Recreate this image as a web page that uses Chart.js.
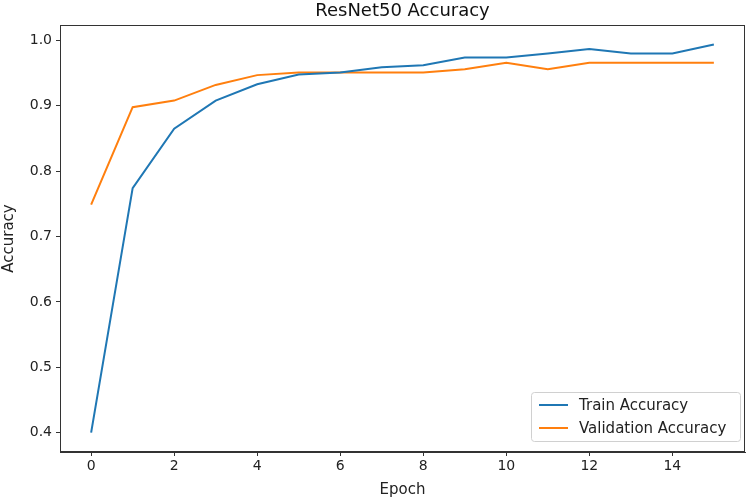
<!DOCTYPE html>
<html>
<head>
<meta charset="utf-8">
<script src="https://cdn.jsdelivr.net/npm/chart.js@4/dist/chart.umd.min.js"></script>
<style>
  html, body { margin: 0; padding: 0; background: #fff; }
  #wrap { width: 752px; height: 502px; }
</style>
</head>
<body>
<div id="wrap"><canvas id="accChart" width="752" height="502"></canvas></div>
<script>
const epochs = [0, 1, 2, 3, 4, 5, 6, 7, 8, 9, 10, 11, 12, 13, 14, 15];
const trainAcc = [0.400, 0.774, 0.865, 0.908, 0.933, 0.948, 0.951, 0.959, 0.962, 0.974, 0.974, 0.980, 0.987, 0.980, 0.980, 0.994];
const valAcc = [0.749, 0.898, 0.908, 0.932, 0.947, 0.951, 0.951, 0.951, 0.951, 0.956, 0.966, 0.956, 0.966, 0.966, 0.966, 0.966];
const xTicks = [0, 2, 4, 6, 8, 10, 12, 14];
const yTicks = [0.4, 0.5, 0.6, 0.7, 0.8, 0.9, 1.0];

const FONT = 'DejaVu Sans';
const blue = '#1f77b4';
const orange = '#ff7f0e';

// frame round the plot area (matplotlib spines) + title centred over the axes
const framePlugin = {
    id: 'frame',
    afterDatasetsDraw(chart) {
        const a = chart.chartArea;
        const c = chart.ctx;
        c.save();
        c.strokeStyle = '#333';
        c.lineWidth = 1;
        c.strokeRect(Math.round(a.left) + 0.5, Math.round(a.top) + 0.5,
            Math.round(a.right - a.left) - 1, Math.round(a.bottom - a.top) - 1);
        c.fillStyle = '#111';
        c.font = '18px "' + FONT + '"';
        c.textAlign = 'center';
        c.textBaseline = 'middle';
        c.fillText('ResNet50 Accuracy', (a.left + a.right) / 2, 11);
        c.restore();
    }
};

// legend in the lower right corner, inside the axes
const cornerLegend = {
    id: 'cornerLegend',
    afterDraw(chart) {
        const a = chart.chartArea;
        const c = chart.ctx;
        const w = 209, h = 49;
        const x = a.right - 5 - w, y = a.bottom - 11 - h;
        c.save();
        c.fillStyle = 'rgba(255,255,255,0.8)';
        c.strokeStyle = '#d0d0d0';
        c.lineWidth = 1;
        c.beginPath();
        c.roundRect(x + 0.5, y + 0.5, w, h, 3);
        c.fill();
        c.stroke();
        c.font = '15px "' + FONT + '"';
        c.textBaseline = 'middle';
        chart.data.datasets.forEach((ds, i) => {
            const ly = y + 13 + i * 23;
            c.strokeStyle = ds.borderColor;
            c.lineWidth = 2;
            c.beginPath();
            c.moveTo(x + 8, ly);
            c.lineTo(x + 37, ly);
            c.stroke();
            c.fillStyle = '#222';
            c.fillText(ds.label, x + 48, ly + 1);
        });
        c.restore();
    }
};

const ctx = document.getElementById('accChart').getContext('2d');

const config = {
    type: 'line',
    data: {
        labels: epochs,
        datasets: [
            {
                label: 'Train Accuracy',
                data: epochs.map((e, i) => ({ x: e, y: trainAcc[i] })),
                borderColor: blue,
                borderWidth: 2,
                pointRadius: 0,
                tension: 0
            },
            {
                label: 'Validation Accuracy',
                data: epochs.map((e, i) => ({ x: e, y: valAcc[i] })),
                borderColor: orange,
                borderWidth: 2,
                pointRadius: 0,
                tension: 0
            }
        ]
    },
    options: {
        responsive: false,
        animation: false,
        layout: { padding: { left: 0, right: 7, top: 25, bottom: 0 } },
        scales: {
            x: {
                type: 'linear',
                min: -0.75,
                max: 15.75,
                afterBuildTicks: (s) => { s.ticks = xTicks.map(v => ({ value: v })); },
                afterFit: (s) => { s.height = 50; },
                grid: { drawOnChartArea: false, drawTicks: true, tickLength: 4, color: '#333' },
                border: { display: true, color: '#333' },
                ticks: { color: '#222', font: { family: FONT, size: 14 }, padding: 2, maxRotation: 0 },
                title: { display: true, text: 'Epoch', color: '#222', font: { family: FONT, size: 15 }, padding: { top: 2, bottom: 3 } }
            },
            y: {
                min: 0.3703,
                max: 1.0237,
                afterBuildTicks: (s) => { s.ticks = yTicks.map(v => ({ value: v })); },
                afterFit: (s) => { s.width = 60; },
                grid: { drawOnChartArea: false, drawTicks: true, tickLength: 4, color: '#333' },
                border: { display: true, color: '#333' },
                ticks: { color: '#222', font: { family: FONT, size: 14 }, padding: 4, callback: (v) => v.toFixed(1) },
                title: { display: true, text: 'Accuracy', color: '#222', font: { family: FONT, size: 15 }, padding: { top: 0, bottom: 4 } }
            }
        },
        plugins: {
            legend: { display: false },
            tooltip: { enabled: false },
            title: { display: false }
        }
    },
    plugins: [framePlugin, cornerLegend]
};

const accChart = new Chart(ctx, config);
</script>
</body>
</html>
